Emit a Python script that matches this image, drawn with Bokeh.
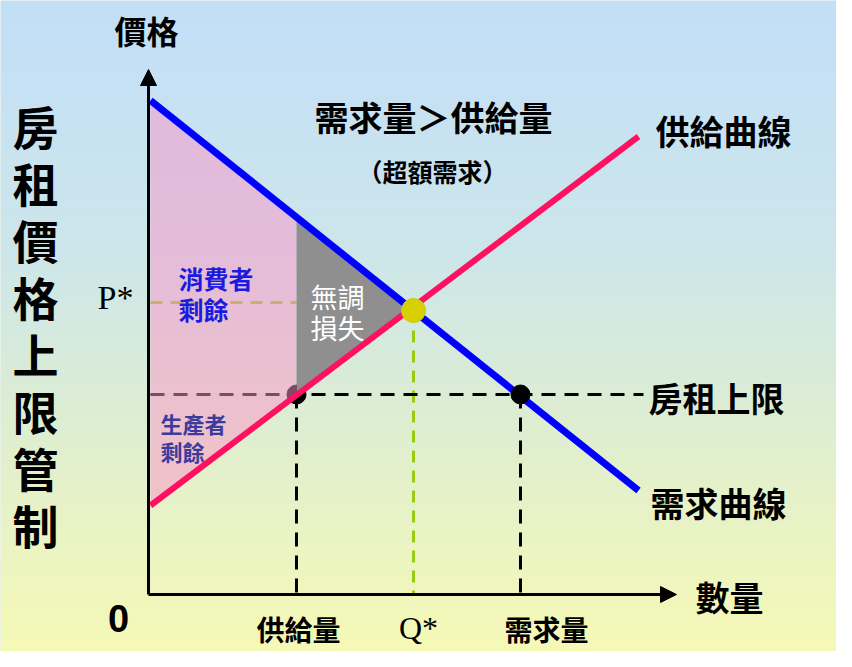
import numpy as np
from bokeh.plotting import figure
from bokeh.models import Range1d, Arrow, NormalHead
from bokeh.core.properties import value
from bokeh.embed import file_html
from bokeh.resources import INLINE

# ---- data (quantity Q, price P) ----
demand_q = [0.04, 9.80]
demand_p = [9.88, 2.08]
supply_q = [0.04, 9.80]
supply_p = [1.78, 9.16]
eq_q = 5.30
eq_p = 5.68
p_star = 5.84
ceiling_p = 4.00
q_supplied = 2.96
q_demanded = 7.44
p_demand_at_qs = 7.54
ceiling_end_q = 9.90
axis_q_max = 10.56
axis_p_max = 10.50

surplus_q = [0.04, q_supplied, q_supplied, 0.04]
surplus_p = [9.88, p_demand_at_qs, ceiling_p, 1.78]
dwl_q = [q_supplied, eq_q, q_supplied]
dwl_p = [p_demand_at_qs, eq_p, ceiling_p]

W, H = 836, 651
X0, X1 = -2.96, 13.76
Y0, Y1 = -1.14, 11.88

p = figure(width=W, height=H, output_backend="svg", toolbar_location=None,
           x_range=Range1d(X0, X1), y_range=Range1d(Y0, Y1),
           min_border=0, min_border_left=0, min_border_right=0,
           min_border_top=0, min_border_bottom=0)
p.xaxis.visible = False
p.yaxis.visible = False
p.grid.visible = False
p.outline_line_color = None
p.background_fill_color = "#d6eadc"
p.border_fill_color = "#d6eadc"

# background gradient (image y from top)
ys = np.arange(H)
stops_y = [0, 250, 420, 667]
r = np.interp(ys, stops_y, [195, 205, 222, 248])
g = np.interp(ys, stops_y, [223, 230, 238, 250])
b = np.interp(ys, stops_y, [248, 235, 210, 180])
img = np.empty((H, 2), dtype=np.uint32)
view = img.view(dtype=np.uint8).reshape((H, 2, 4))
for k, ch in enumerate([r, g, b]):
    view[:, :, k] = ch[::-1, None].astype(np.uint8)
view[:, :, 3] = 255
p.image_rgba(image=[img], x=X0, y=Y0, dw=X1 - X0, dh=Y1 - Y0)

# dashed guide lines (under the overlay)
p.line([eq_q, eq_q], [eq_p, 0], line_color="#99cc11", line_width=3, line_dash="12 8")
p.line([0.04, q_supplied], [p_star, p_star], line_color="#99cc11", line_width=3, line_dash="12 8")
p.line([0.04, ceiling_end_q], [ceiling_p, ceiling_p], line_color="black", line_width=3, line_dash="14 9")
p.line([q_supplied, q_supplied], [ceiling_p, 0], line_color="black", line_width=3, line_dash="14 9")
p.line([q_demanded, q_demanded], [ceiling_p, 0], line_color="black", line_width=3, line_dash="14 9")
p.scatter([q_supplied], [ceiling_p], size=19, color="black")

# surplus overlay and deadweight loss
p.patch(surplus_q, surplus_p, fill_color="#fc94c8", fill_alpha=0.5, line_color=None)
p.patch(dwl_q, dwl_p, fill_color="#8f8f8f", line_color=None)

# curves
p.line(demand_q, demand_p, line_color="#0000ff", line_width=7)
p.line(supply_q, supply_p, line_color="#ff1060", line_width=6)

# points
p.scatter([q_demanded], [ceiling_p], size=19, color="black")
p.scatter([eq_q], [eq_p], size=24, fill_color="#d8d000", line_color="#c8cc10", line_width=1)

# axes with arrows
p.add_layout(Arrow(end=NormalHead(size=16, fill_color="black", line_color="black"),
                   x_start=0, y_start=0, x_end=0, y_end=axis_p_max, line_width=3))
p.add_layout(Arrow(end=NormalHead(size=16, fill_color="black", line_color="black"),
                   x_start=0, y_start=0, x_end=axis_q_max, y_end=0, line_width=3))

CJK = value("Noto Sans CJK TC")


def label(x, y, t, size, color="black", align="left", style="bold", font=CJK):
    p.text([x], [y], text=[t], text_font=font, text_font_size=value(f"{size}px"),
           text_color=color, text_align=align, text_baseline="middle",
           text_font_style=style)


label(-0.04, 11.30, "價格", 32, align="center")
title_chars = list("房租價格上限管制")
for i, ch in enumerate(title_chars):
    label(-2.26, 5.40 - (i - 3.5) * 1.14, ch, 46, align="center")

label(5.70, 9.56, "需求量＞供給量", 34, align="center")
label(5.68, 8.48, "（超額需求）", 25, align="center")
label(10.14, 9.28, "供給曲線", 34)
label(10.00, 3.94, "房租上限", 34)
label(10.04, 1.84, "需求曲線", 34)
label(10.94, -0.04, "數量", 34)
label(-0.60, -0.48, "0", 38, align="center", font=value("Liberation Sans"))
label(q_supplied + 0.04, -0.68, "供給量", 28, align="center")
label(eq_q + 0.10, -0.66, "Q*", 32, align="center", style="normal", font=value("Liberation Serif"))
label(q_demanded + 0.52, -0.68, "需求量", 28, align="center")
label(-0.66, p_star + 0.10, "P*", 34, align="center", style="normal", font=value("Liberation Serif"))

label(0.60, 6.34, "消費者", 25, color="#1a1ae0")
label(0.60, 5.72, "剩餘", 25, color="#1a1ae0")
label(3.24, 5.96, "無調", 27, color="white", style="normal")
label(3.24, 5.34, "損失", 27, color="white", style="normal")
label(0.24, 3.44, "生產者", 22, color="#3c3c9c")
label(0.24, 2.88, "剩餘", 22, color="#3c3c9c")

open("out.html", "w").write(file_html(p, INLINE))
